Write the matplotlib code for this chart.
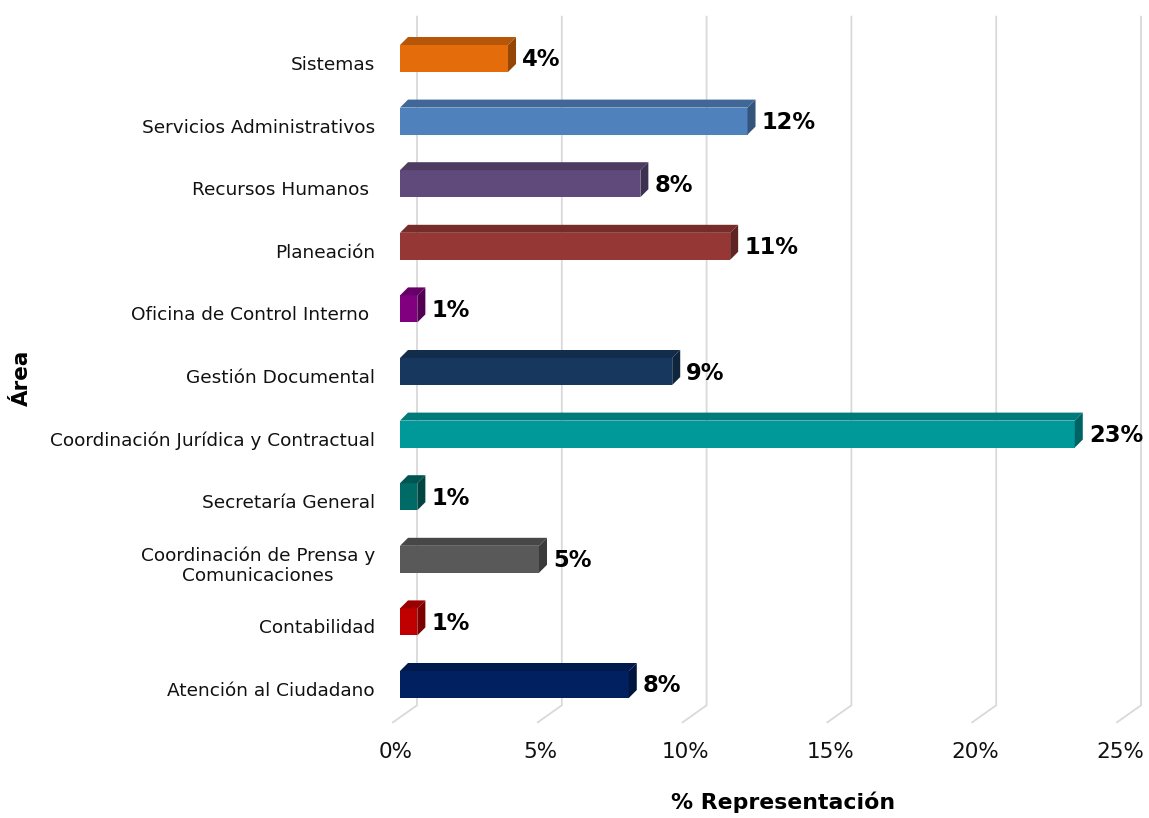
import matplotlib
matplotlib.use("Agg")
import matplotlib.pyplot as plt
from matplotlib.patches import Polygon, Rectangle
import matplotlib.colors as mcolors

# ---- data (bottom to top) ----
categories = ["Atención al Ciudadano", "Contabilidad",
              "Coordinación de Prensa y\nComunicaciones", "Secretaría General",
              "Coordinación Jurídica y Contractual", "Gestión Documental",
              "Oficina de Control Interno ", "Planeación", "Recursos Humanos ",
              "Servicios Administrativos", "Sistemas"]
values = [7.9, 0.6, 4.8, 0.6, 23.3, 9.4, 0.6, 11.4, 8.3, 12.0, 3.73]
value_labels = ["8%", "1%", "5%", "1%", "23%", "9%", "1%", "11%", "8%", "12%", "4%"]
colors = ["#002060", "#C00000", "#595959", "#006A66", "#009999", "#17375E",
          "#800080", "#953735", "#604A7B", "#4F81BD", "#E46C0A"]
xticks = [0, 5, 10, 15, 20, 25]
xtick_labels = ["0%", "5%", "10%", "15%", "20%", "25%"]

W, H = 1149, 818
fig = plt.figure(figsize=(W / 100, H / 100), dpi=100)

# axes geometry in pixels
x0_px = 393.0
ppx = 28.96          # pixels per percent
y_bottom_px = 722.3
y_top_px = 33.7
ppy = (y_bottom_px - y_top_px) / 11.0

ax = fig.add_axes([x0_px / W, (H - y_bottom_px) / H, 25 * ppx / W,
                   (y_bottom_px - y_top_px) / H])
ax.set_xlim(0, 25)
ax.set_ylim(-0.5, 10.5)
ax.axis("off")

def dx(p):
    return p / ppx

def dy(p):
    return p / ppy

# ---- gridlines on back wall with floor diagonals ----
gdx, gdy = dx(24), dy(17)
for v in xticks:
    ax.plot([v, v + gdx, v + gdx], [-0.5, -0.5 + gdy, 10.5 + gdy],
            color="#D9D9D9", lw=1.3, clip_on=False, zorder=1,
            solid_joinstyle="miter")

# ---- 3D bars ----
fdx, fdy = dx(7), dy(6.5)
bdx, bdy = dx(8), dy(8)
h = 27 / ppy

def shade(c, f):
    r, g, b = mcolors.to_rgb(c)
    return (r * f, g * f, b * f)

for i, (v, c) in enumerate(zip(values, colors)):
    yc = i + fdy
    yb, yt = yc - h / 2, yc + h / 2
    x1 = fdx
    x2 = fdx + v
    ax.add_patch(Rectangle((x1, yb), v, h, facecolor=c, edgecolor="none",
                           clip_on=False, zorder=3))
    ax.add_patch(Polygon([(x1, yt), (x2, yt), (x2 + bdx, yt + bdy),
                          (x1 + bdx, yt + bdy)], closed=True,
                         facecolor=shade(c, 0.8), edgecolor="none",
                         clip_on=False, zorder=3))
    ax.add_patch(Polygon([(x2, yb), (x2 + bdx, yb + bdy),
                          (x2 + bdx, yt + bdy), (x2, yt)], closed=True,
                         facecolor=shade(c, 0.65), edgecolor="none",
                         clip_on=False, zorder=3))
    ax.text(x2 + bdx + dx(6), yc - dy(1.5), value_labels[i],
            fontsize=16.3, fontweight="bold", ha="left", va="center",
            color="black", zorder=4, clip_on=False)
    ax.text(-dx(18), i, categories[i], fontsize=13.3, ha="right",
            va="center", multialignment="center", color="#111111",
            clip_on=False)

# ---- x tick labels ----
for v, lab in zip(xticks, xtick_labels):
    ax.text(v + dx(3), -0.5 - dy(30), lab, fontsize=15.5, ha="center",
            va="center", color="#111111", clip_on=False)

# ---- axis titles ----
fig.text(783 / W, 1 - 802 / H, "% Representación", fontsize=15.8,
         fontweight="bold", ha="center", va="center")
fig.text(22 / W, 1 - 378 / H, "Área", fontsize=15.5, fontweight="bold",
         ha="center", va="center", rotation=90)

fig.savefig("out.png", dpi=100, facecolor="white")
